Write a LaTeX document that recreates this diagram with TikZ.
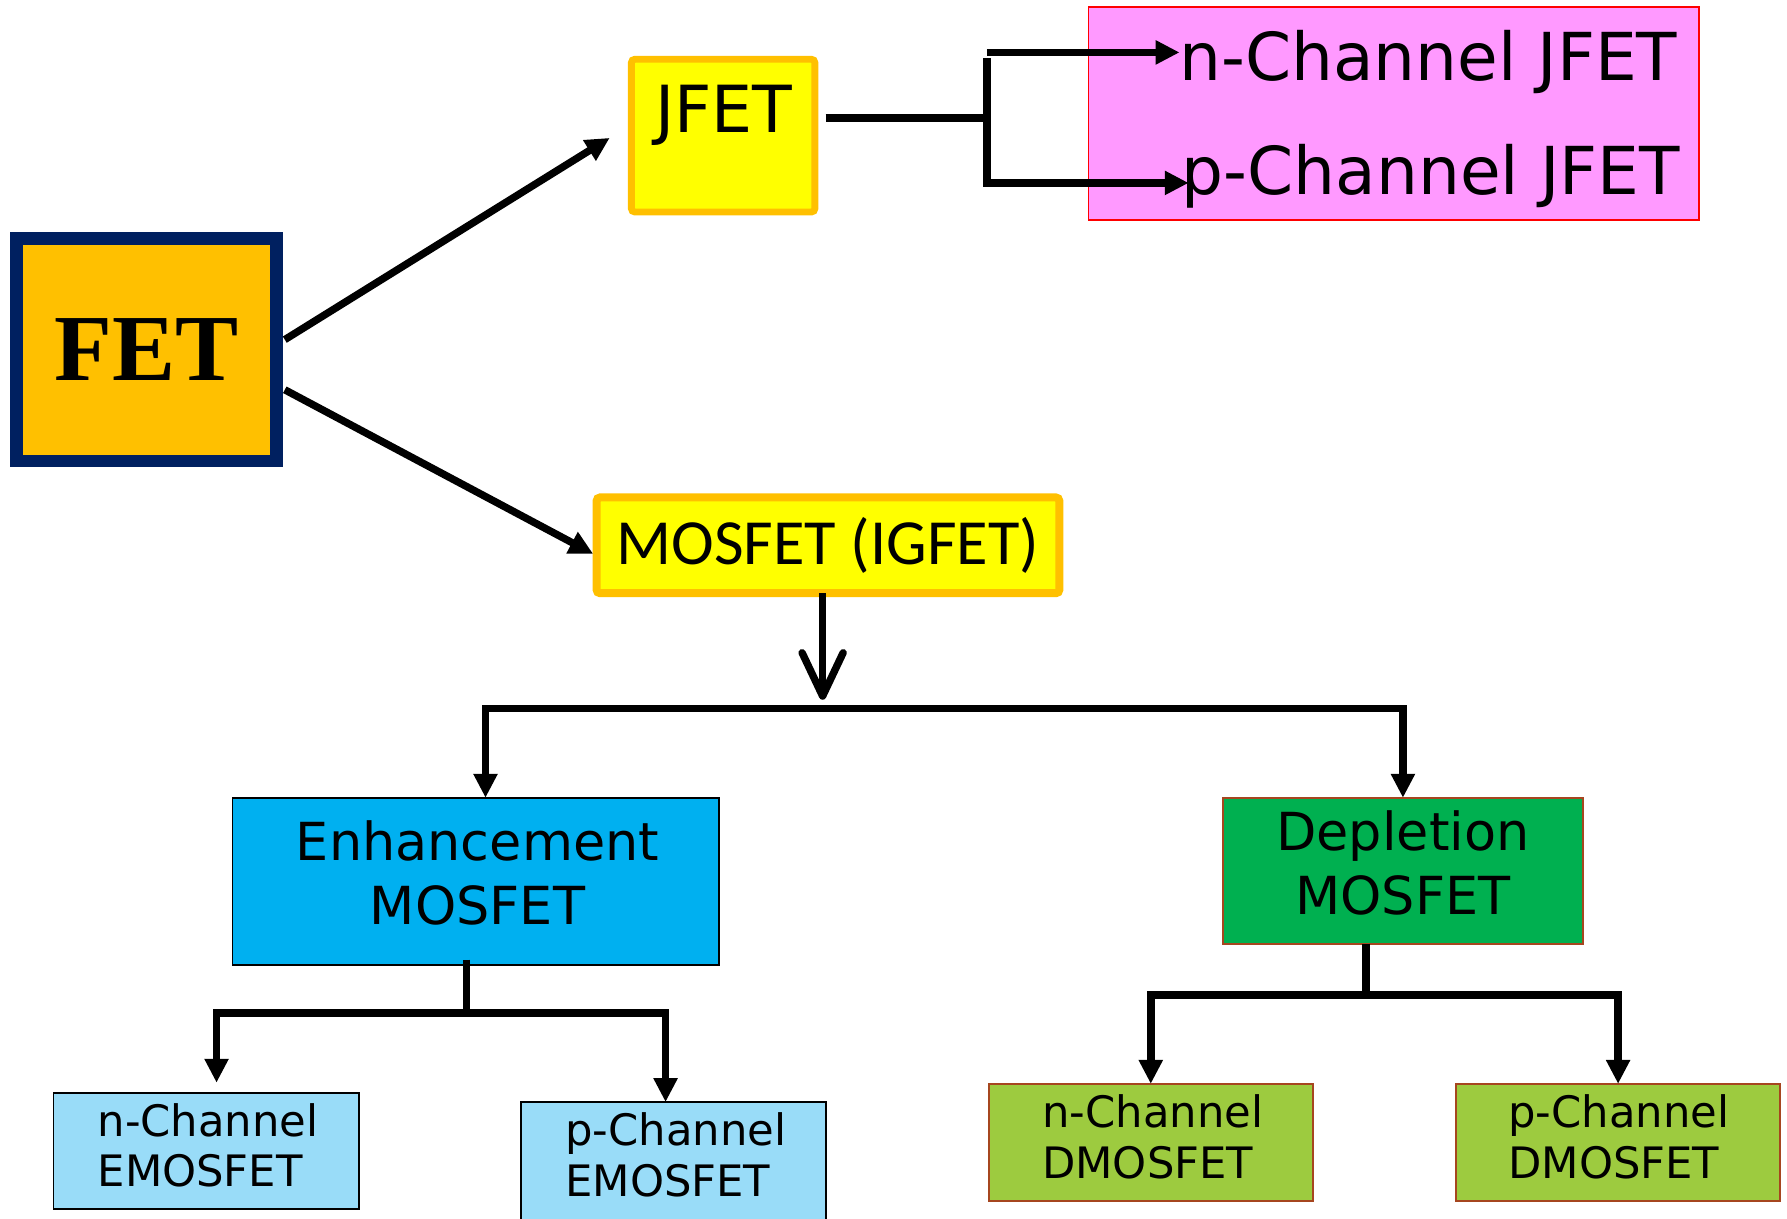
\documentclass[tikz,border=0pt]{standalone}
\usepackage{fontspec}
\setmainfont{DejaVu Sans}
\newfontfamily\carlito{Carlito}
\newfontfamily\fetserif{Liberation Serif}
\usetikzlibrary{arrows.meta,calc}
\definecolor{fetfill}{HTML}{FFC000}
\definecolor{fetborder}{HTML}{002060}
\definecolor{jyellow}{HTML}{FFFF00}
\definecolor{jorange}{HTML}{FFC000}
\definecolor{pinkfill}{HTML}{FF99FF}
\definecolor{enhblue}{HTML}{00B0F0}
\definecolor{lightblue}{HTML}{99DCF8}
\definecolor{deplgreen}{HTML}{00B050}
\definecolor{dmosgreen}{HTML}{9DCB3F}
\definecolor{brownborder}{HTML}{A6461F}
\begin{document}
\begin{tikzpicture}[x=1pt,y=-1pt,
  box/.style={rectangle, inner sep=0pt, outer sep=0pt},
  txt/.style={inner sep=0pt, outer sep=0pt},
  conn/.style={line width=6.5pt, black},
  arr/.style={conn, -{Triangle[length=21pt,width=20pt]}},
  bigfont/.style={font=\fontsize{58}{70}\selectfont},
  midfont/.style={font=\fontsize{46}{56}\selectfont},
  smallfont/.style={font=\fontsize{38}{44.6}\selectfont}
]
\useasboundingbox (0,0) rectangle (1568,1069);
\clip (0,0) rectangle (1568,1069);

% FET
\node[box, fill=fetfill, draw=fetborder, line width=11pt,
      minimum width=228pt, minimum height=195pt,
      font=\fetserif\bfseries\fontsize{83}{90}\selectfont] (fet) at (128.4,306.8) {FET};

% JFET
\node[box, fill=jyellow, draw=jorange, line width=6pt, rounded corners=3pt,
      minimum width=161pt, minimum height=134pt] (jfet) at (634.5,119) {};
\node[txt, font=\fontsize{57}{64}\selectfont, anchor=base] (jfetlabel) at (635,116) {JFET};

% JFET types
\node[box, fill=pinkfill, draw=red, line width=1.5pt,
      minimum width=536pt, minimum height=187pt] (jtypes) at (1223,99.5) {};
\node[txt, bigfont, anchor=base west] (nj) at (1035,71) {n-Channel JFET};
\node[txt, bigfont, anchor=base west] (pj) at (1037,171) {p-Channel JFET};

% MOSFET
\node[box, fill=jyellow, draw=jorange, line width=7pt, rounded corners=3pt,
      minimum width=406pt, minimum height=84pt,
      font=\carlito\fontsize{56.5}{64}\selectfont] (mos) at (726.5,478.5) {MOSFET (IGFET)};

% Enhancement / Depletion
\node[box, fill=enhblue, draw=black, line width=1.5pt,
      minimum width=427pt, minimum height=147pt] (enh) at (417.5,773.5) {};
\node[txt, midfont, align=center] (enhtext) at (419,766) {Enhancement\\MOSFET};
\node[box, fill=deplgreen, draw=brownborder, line width=1.5pt,
      minimum width=316pt, minimum height=128pt] (depl) at (1231,764) {};
\node[txt, midfont, align=center] (depltext) at (1231,757.2) {Depletion\\MOSFET};

% bottom boxes
\node[box, fill=lightblue, draw=black, line width=1.5pt,
      minimum width=268pt, minimum height=102pt] (ne) at (181,1010) {};
\node[txt, smallfont, align=left, anchor=west] (net) at (85.7,1005) {n-Channel\\EMOSFET};
\node[box, fill=lightblue, draw=black, line width=1.5pt,
      minimum width=268pt, minimum height=108pt] (pe) at (591,1021) {};
\node[txt, smallfont, align=left, anchor=west] (pet) at (496,1013) {p-Channel\\EMOSFET};
\node[box, fill=dmosgreen, draw=brownborder, line width=1.5pt,
      minimum width=284.5pt, minimum height=103pt] (nd) at (1009.75,1002.5) {};
\node[txt, smallfont, align=left, anchor=west] (ndt) at (914.5,997.2) {n-Channel\\DMOSFET};
\node[box, fill=dmosgreen, draw=brownborder, line width=1.5pt,
      minimum width=284.4pt, minimum height=103pt] (pd) at (1419.8,1002.5) {};
\node[txt, smallfont, align=left, anchor=west] (pdt) at (1323.5,997.2) {p-Channel\\DMOSFET};

% FET arrows
\draw[arr] ($(fet.east)+(7.5,-8.8)$) -- ($(jfet.west)+(-19,2)$);
\draw[arr] ($(fet.east)+(7.5,35.2)$) -- ($(mos.west)+(-3,7.5)$);

% JFET split
\coordinate (jbar) at (866,103.6);
\coordinate (jbartop) at (866,51);
\coordinate (jbarbot) at (866,163);
\coordinate (jn) at (866,46);
\coordinate (jp) at (862.75,160.5);
\draw[conn] ($(jfet.east)+(9.5,-15.4)$) -- (jbar);
\draw[conn] (jbartop) -- (jbarbot);
\draw[arr] (jn) -- (jn -| nj.west);
\draw[arr] (jp) -- ($(jp -| pj.west)+(6,0)$);

% MOSFET split
\coordinate (mtip) at (721.8,614);
\coordinate (mmid) at (721.8,621.5);
\draw[conn, -{Straight Barb[length=38pt,width=36pt,round]}] (mos.south -| mtip) -- (mtip);
\draw[arr] (mmid) -| ($(enh.north)+(8.5,0)$);
\draw[arr] (mmid) -| (depl.north);

% Enhancement split
\coordinate (ebar) at (409.5,889);
\draw[conn] ($(enh.south -| ebar)+(0,-5)$) -- (ebar);
\draw[arr] (ebar) -| ($(ne.north)+(9,-9)$);
\draw[arr] (ebar) -| ($(pe.north)+(-7,0)$);

% Depletion split
\coordinate (dbar) at (1198.6,873);
\draw[conn] (depl.south -| dbar) -- (dbar);
\draw[arr] (dbar) -| (nd.north);
\draw[arr] (dbar) -| (pd.north);
\end{tikzpicture}
\end{document}
